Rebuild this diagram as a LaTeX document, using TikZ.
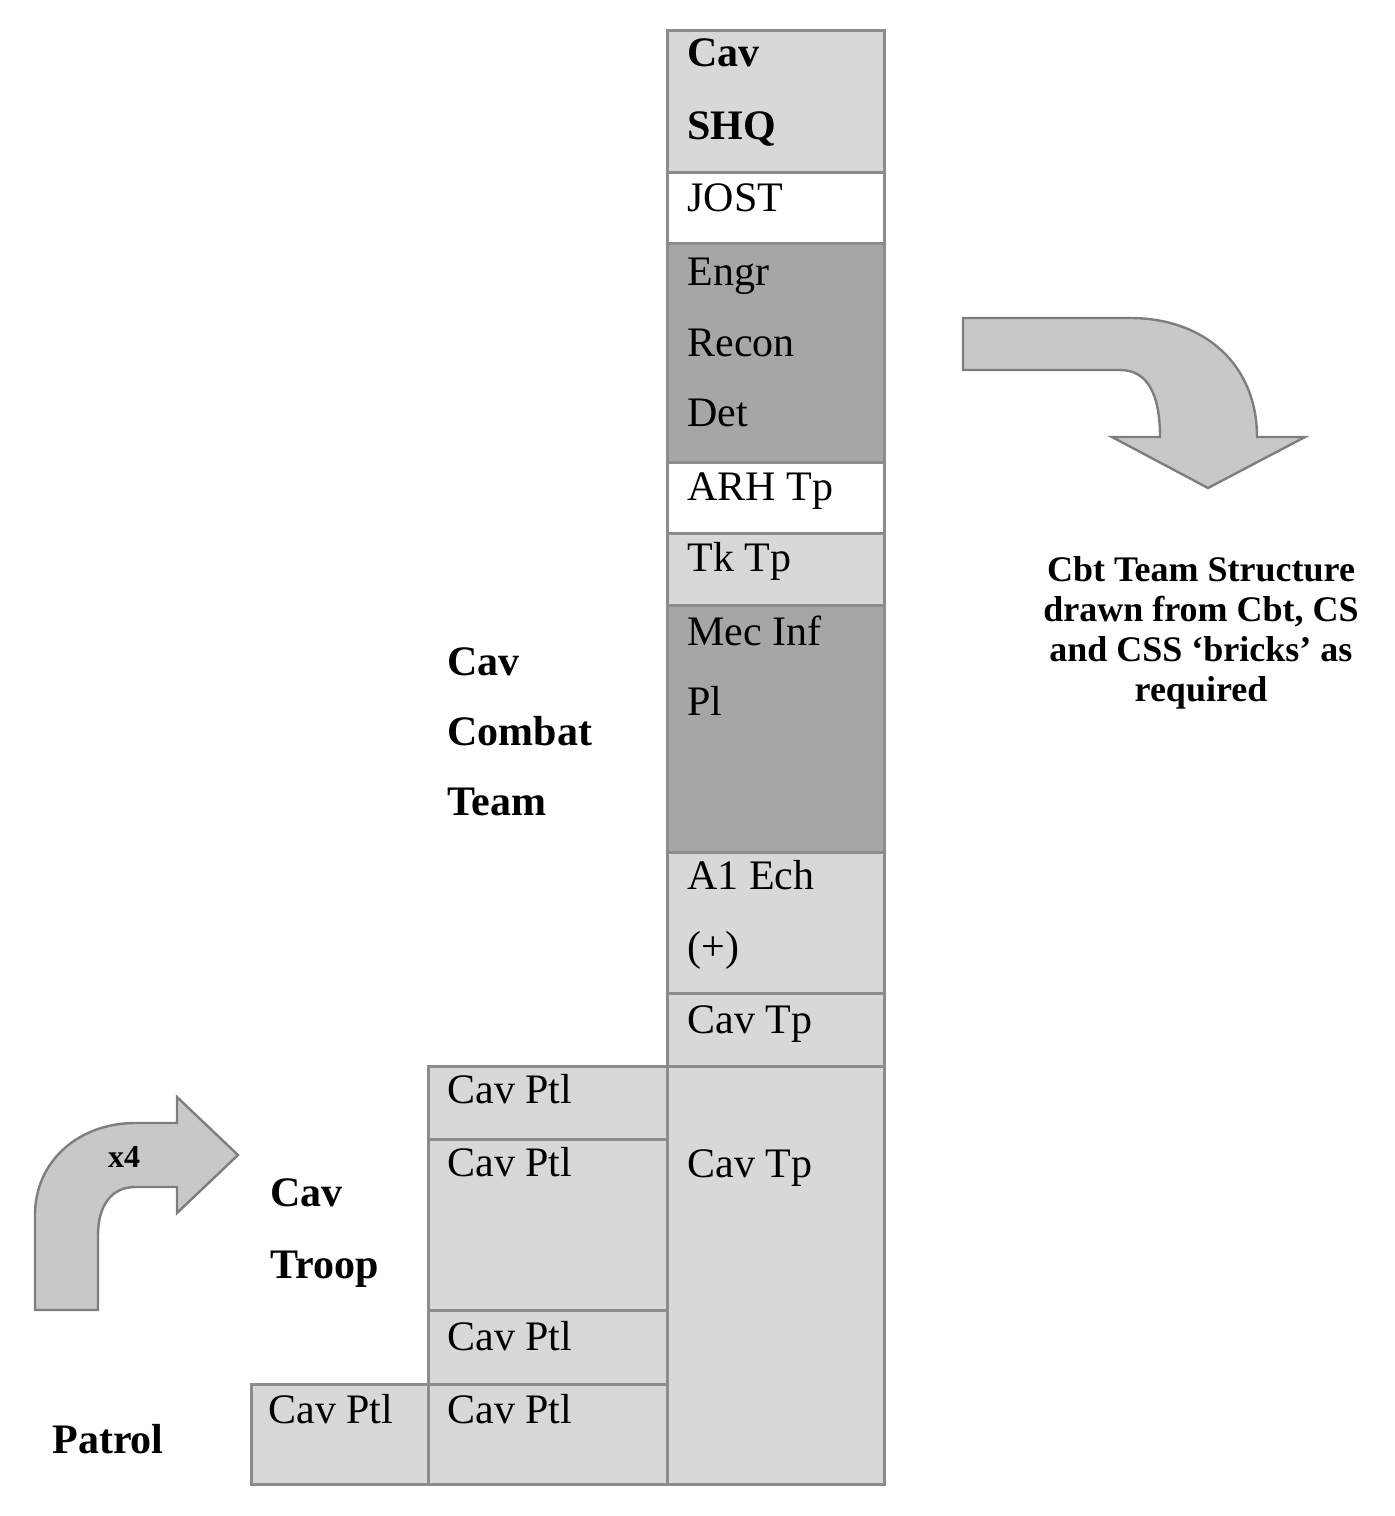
\documentclass[tikz,border=0pt]{standalone}
\usepackage{fontspec}
\setmainfont{Liberation Serif}
\definecolor{lg}{HTML}{D8D8D8}
\definecolor{dg}{HTML}{A6A6A6}
\definecolor{bd}{HTML}{8C8C8C}
\definecolor{af}{HTML}{C8C8C8}
\definecolor{ab}{HTML}{7E7E7E}
\tikzset{
  brick/.style={draw=bd, line width=1.5pt},
  lbl/.style={anchor=base west, inner sep=0pt, font=\fontsize{21}{25}\selectfont},
  blbl/.style={lbl, font=\fontsize{21}{25}\selectfont\bfseries},
  bigarrow/.style={draw=ab, fill=af, line width=1.2pt, line join=miter}
}
\begin{document}
\begin{tikzpicture}[x=0.5pt,y=-0.5pt]
\useasboundingbox (0,0) rectangle (1395,1516);
% main column
\draw[brick, fill=lg] (667,30) rectangle (884,172);
\draw[brick, fill=white] (667,172) rectangle (884,243);
\draw[brick, fill=dg] (667,243) rectangle (884,462);
\draw[brick, fill=white] (667,462) rectangle (884,533);
\draw[brick, fill=lg] (667,533) rectangle (884,605);
\draw[brick, fill=dg] (667,605) rectangle (884,852);
\draw[brick, fill=lg] (667,852) rectangle (884,993);
\draw[brick, fill=lg] (667,993) rectangle (884,1066);
\draw[brick, fill=lg] (667,1066) rectangle (884,1484);
% troop column
\draw[brick, fill=lg] (428,1066) rectangle (667,1139);
\draw[brick, fill=lg] (428,1139) rectangle (667,1310);
\draw[brick, fill=lg] (428,1310) rectangle (667,1384);
\draw[brick, fill=lg] (428,1384) rectangle (667,1484);
% patrol column
\draw[brick, fill=lg] (251,1384) rectangle (428,1484);

% texts in column
\node[blbl] (cav) at (687,66) {Cav};
\node[blbl] (shq) at (687,139) {SHQ};
\node[lbl] (jost) at (687,211) {JOST};
\node[lbl] (engr) at (687,285) {Engr};
\node[lbl] (recon) at (687,356) {Recon};
\node[lbl] (det) at (687,426) {Det};
\node[lbl] (arh) at (687,500) {ARH Tp};
\node[lbl] (tk) at (687,571) {Tk Tp};
\node[lbl] (mec) at (687,645) {Mec Inf};
\node[lbl] (pl) at (687,715) {Pl};
\node[lbl] (a1) at (687,889) {A1 Ech};
\node[lbl] (plus) at (687,960) {(+)};
\node[lbl] (cavtp1) at (687,1033) {Cav Tp};
\node[lbl] (cavtp2) at (687,1177) {Cav Tp};
\node[lbl] (ptl1) at (447,1103) {Cav Ptl};
\node[lbl] (ptl2) at (447,1176) {Cav Ptl};
\node[lbl] (ptl3) at (447,1350) {Cav Ptl};
\node[lbl] (ptl4) at (447,1423) {Cav Ptl};
\node[lbl] (ptl5) at (268,1423) {Cav Ptl};

% side labels
\node[blbl] (cct1) at (447,675) {Cav};
\node[blbl] (cct2) at (447,745) {Combat};
\node[blbl] (cct3) at (447,815) {Team};
\node[blbl] (tr1) at (270,1206) {Cav};
\node[blbl] (tr2) at (270,1278) {Troop};
\node[blbl] (patrol) at (52,1453) {Patrol};

\node[align=center, inner sep=0pt, font=\fontsize{18}{20}\selectfont\bfseries] (note) at (1201,633)
  {Cbt Team Structure\\drawn from Cbt, CS\\and CSS ‘bricks’ as\\required};

% right curved arrow (pointing down)
\draw[bigarrow] (963,318) -- (1130,318)
  .. controls (1205,318) and (1257,365) .. (1257,437)
  -- (1305,437) -- (1208,488) -- (1112,437) -- (1160,437)
  .. controls (1160,395) and (1148,370) .. (1120,370)
  -- (963,370) -- cycle;
% left curved arrow (pointing right)
\draw[bigarrow] (35,1310) -- (35,1215)
  .. controls (35,1160) and (80,1123) .. (135,1123)
  -- (177,1123) -- (177,1097) -- (238,1155) -- (177,1213) -- (177,1187)
  -- (135,1187) .. controls (112,1187) and (98,1205) .. (98,1235)
  -- (98,1310) -- cycle;
\node[inner sep=0pt, font=\fontsize{16}{18}\selectfont\bfseries] (x4) at (124,1157) {x4};
\end{tikzpicture}
\end{document}
